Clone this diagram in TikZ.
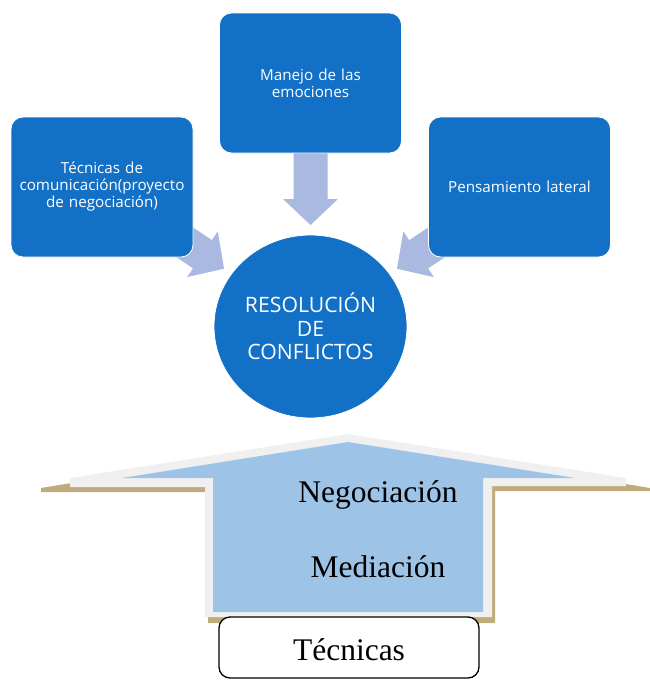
\documentclass[tikz,border=0pt]{standalone}
\usepackage{fontspec}
\setmainfont{Liberation Serif}
\newfontfamily\boxfont{Open Sans}
\usetikzlibrary{calc,shapes.geometric,backgrounds}
\definecolor{boxblue}{HTML}{1270C6}
\definecolor{arrowc}{HTML}{AAB9E0}
\definecolor{fillblue}{HTML}{9DC3E6}
\definecolor{rimwhite}{HTML}{F0F0F0}
\definecolor{shadowbrown}{HTML}{BFAB7C}
\tikzset{
  bluebox/.style={draw=white, line width=0.8pt, fill=boxblue, rounded corners=12pt,
    minimum width=182pt, minimum height=140pt, text=white, align=center,
    text width=178pt, inner sep=2pt, font=\boxfont\fontsize{15.2}{17}\selectfont},
  hubnode/.style={ellipse, fill=boxblue, draw=white, line width=0.8pt,
    minimum width=193pt, minimum height=183pt, inner sep=0pt, text=white, align=center,
    font=\boxfont\fontsize{21.2}{23.5}\selectfont},
  blockarrow/.pic={\fill[arrowc] (0,0) -- (-26,27.5) -- (-26,17) -- (-76,17) -- (-76,-17)
     -- (-26,-17) -- (-26,-27.5) -- cycle;},
  serifbig/.style={font=\fontsize{31.5}{36}\selectfont, anchor=base, inner sep=0pt},
  techbox/.style={draw=black, line width=1.3pt, fill=white, rounded corners=11pt,
    minimum width=260pt, minimum height=61pt, inner sep=0pt}
}
\begin{document}
\begin{tikzpicture}[x=1pt,y=-1pt]
\useasboundingbox (0,0) rectangle (650,680);
% top part
\node[bluebox] (tbox) at (310.5,83) {Manejo de las\\emociones};
\node[bluebox] (lbox) at (102,187) {Técnicas de\\comunicación(proyecto\\de negociación)};
\node[bluebox] (rbox) at (519.5,187) {Pensamiento lateral};
\node[hubnode] (res) at (310.5,326.5) {RESOLUCIÓN\\DE\\CONFLICTOS};
\coordinate (tipT) at ($(res.center)!101.5pt!(tbox.center)$);
\coordinate (tipL) at ($(res.center)!104pt!(lbox.center)$);
\coordinate (tipR) at ($(res.center)!104pt!(rbox.center)$);
\begin{scope}[on background layer]
  \pic[rotate=-90] at (tipT) {blockarrow};
  \pic[rotate=-33.8] at (tipL) {blockarrow};
  \pic[rotate=-146.2] at (tipR) {blockarrow};
\end{scope}
% bottom up-arrow
\fill[shadowbrown] (41,488) -- (348,438) -- (650,488) -- (650,491) -- (495,491)
  -- (495,623) -- (208,623) -- (208,492) -- (41,492) -- cycle;
\fill[rimwhite] (70,487) -- (70,478) -- (348,434) -- (626,478) -- (626,486) -- (492,486)
  -- (492,617) -- (205,617) -- (205,487) -- cycle;
\fill[fillblue] (122,478) -- (348,442) -- (575,478) -- (483,478) -- (483,612)
  -- (213,612) -- (213,478) -- cycle;
\node[serifbig] (neg) at (378,502) {Negociación};
\node[serifbig] (med) at (378,577) {Mediación};
\node[techbox] (tec) at (349,647.5) {};
\node[serifbig] (tect) at (349,660) {Técnicas};
\end{tikzpicture}
\end{document}
